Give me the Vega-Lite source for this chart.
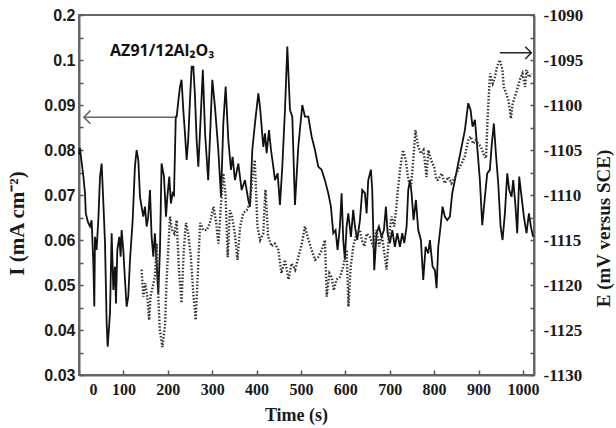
{
  "$schema": "https://vega.github.io/schema/vega-lite/v6.json",
  "width": 455,
  "height": 360,
  "autosize": {"type": "none"},
  "padding": {"left": 79, "top": 15, "right": 82, "bottom": 53},
  "background": "white",
  "config": {
    "view": {"stroke": "#666", "strokeWidth": 2},
    "axis": {"grid": false, "labelOverlap": false}
  },
  "datasets": {
    "current": [
      {"t":0,"I":0.079},{"t":2,"I":0.0805},{"t":5,"I":0.078},{"t":10,"I":0.074},{"t":13.5,"I":0.0704},{"t":15.3,"I":0.0659},{"t":20,"I":0.064},{"t":24.8,"I":0.063},{"t":28.5,"I":0.0644},{"t":32.3,"I":0.0548},{"t":34.5,"I":0.0452},{"t":36,"I":0.0607},{"t":39.6,"I":0.0578},{"t":43.5,"I":0.0644},{"t":47.3,"I":0.074},{"t":51,"I":0.077},{"t":55,"I":0.068},{"t":58.6,"I":0.0593},{"t":62.3,"I":0.0415},{"t":64.6,"I":0.0363},{"t":69.8,"I":0.0437},{"t":73.6,"I":0.0615},{"t":77.3,"I":0.0489},{"t":81,"I":0.0541},{"t":83.3,"I":0.0459},{"t":86.3,"I":0.0578},{"t":90.8,"I":0.0607},{"t":93.8,"I":0.0563},{"t":96,"I":0.0622},{"t":99.8,"I":0.0578},{"t":103.6,"I":0.0511},{"t":107.3,"I":0.0452},{"t":111,"I":0.0474},{"t":114.9,"I":0.0556},{"t":120.9,"I":0.0644},{"t":126,"I":0.0763},{"t":129.8,"I":0.08},{"t":133.6,"I":0.0778},{"t":137.4,"I":0.0696},{"t":141,"I":0.0674},{"t":144.9,"I":0.0652},{"t":148.6,"I":0.0674},{"t":152.4,"I":0.063},{"t":156,"I":0.0652},{"t":159.9,"I":0.0711},{"t":163.6,"I":0.0607},{"t":167.4,"I":0.0563},{"t":171,"I":0.0615},{"t":174.9,"I":0.0548},{"t":178.6,"I":0.0481},{"t":182.4,"I":0.0578},{"t":186,"I":0.077},{"t":191.4,"I":0.0741},{"t":196,"I":0.0652},{"t":199,"I":0.0696},{"t":203.4,"I":0.0741},{"t":207,"I":0.0681},{"t":211,"I":0.0704},{"t":214,"I":0.07},{"t":218,"I":0.0874},{"t":220,"I":0.0874},{"t":224,"I":0.0911},{"t":227.5,"I":0.0941},{"t":231,"I":0.0956},{"t":235,"I":0.0889},{"t":238.7,"I":0.0837},{"t":242.5,"I":0.0778},{"t":246,"I":0.0822},{"t":250,"I":0.0911},{"t":253.8,"I":0.0985},{"t":257.5,"I":0.0985},{"t":261,"I":0.0926},{"t":265,"I":0.0822},{"t":268.8,"I":0.0763},{"t":272.5,"I":0.0837},{"t":279,"I":0.0978},{"t":284,"I":0.0837},{"t":287.5,"I":0.0785},{"t":291,"I":0.0733},{"t":296,"I":0.085},{"t":300.3,"I":0.0956},{"t":306.3,"I":0.0896},{"t":313.8,"I":0.08},{"t":319.9,"I":0.0696},{"t":325.1,"I":0.0859},{"t":330.4,"I":0.0941},{"t":336.4,"I":0.0822},{"t":342.4,"I":0.0756},{"t":346,"I":0.0785},{"t":351.4,"I":0.0733},{"t":358.9,"I":0.077},{"t":366.4,"I":0.0711},{"t":373.9,"I":0.0733},{"t":381.4,"I":0.0689},{"t":385.2,"I":0.0674},{"t":390.4,"I":0.08},{"t":396.4,"I":0.0859},{"t":404,"I":0.0926},{"t":407.7,"I":0.0896},{"t":415.2,"I":0.0807},{"t":419,"I":0.0837},{"t":422.7,"I":0.0793},{"t":428,"I":0.0844},{"t":432.5,"I":0.08},{"t":437.7,"I":0.0763},{"t":441.5,"I":0.0733},{"t":447.5,"I":0.0748},{"t":452.7,"I":0.0678},{"t":458,"I":0.0763},{"t":464,"I":0.0889},{"t":469.3,"I":0.103},{"t":475.3,"I":0.0889},{"t":480.5,"I":0.0874},{"t":486.5,"I":0.0678},{"t":494,"I":0.0807},{"t":503,"I":0.09},{"t":509,"I":0.0874},{"t":516.6,"I":0.0874},{"t":524,"I":0.083},{"t":531.6,"I":0.08},{"t":539,"I":0.0763},{"t":546.5,"I":0.0756},{"t":554,"I":0.0733},{"t":561.5,"I":0.0704},{"t":567.5,"I":0.0674},{"t":572.8,"I":0.0615},{"t":578,"I":0.0622},{"t":582.5,"I":0.0578},{"t":587.8,"I":0.063},{"t":591.6,"I":0.0704},{"t":595.3,"I":0.06},{"t":599,"I":0.0556},{"t":602.8,"I":0.063},{"t":606.6,"I":0.0659},{"t":612.6,"I":0.0607},{"t":617.8,"I":0.0667},{"t":621.6,"I":0.063},{"t":626.8,"I":0.06},{"t":632.9,"I":0.0644},{"t":638.1,"I":0.0711},{"t":644.1,"I":0.0704},{"t":647.9,"I":0.0659},{"t":651.6,"I":0.0733},{"t":657.6,"I":0.0756},{"t":660.6,"I":0.0711},{"t":665.1,"I":0.0533},{"t":670.4,"I":0.0615},{"t":675.6,"I":0.063},{"t":681.7,"I":0.0607},{"t":686.9,"I":0.0622},{"t":691.4,"I":0.0674},{"t":695.2,"I":0.0615},{"t":700.4,"I":0.0593},{"t":705.7,"I":0.0622},{"t":711.7,"I":0.0585},{"t":717,"I":0.0615},{"t":723,"I":0.0585},{"t":728.2,"I":0.0615},{"t":732.7,"I":0.0593},{"t":738,"I":0.063},{"t":741.7,"I":0.0711},{"t":745.5,"I":0.0733},{"t":749.2,"I":0.0704},{"t":753.7,"I":0.0644},{"t":759,"I":0.0689},{"t":764.2,"I":0.0622},{"t":770.2,"I":0.06},{"t":775.5,"I":0.0511},{"t":780.8,"I":0.0585},{"t":786.8,"I":0.057},{"t":790.5,"I":0.06},{"t":796.5,"I":0.0541},{"t":801.8,"I":0.0533},{"t":805.5,"I":0.0493},{"t":809.3,"I":0.0585},{"t":814.5,"I":0.063},{"t":819,"I":0.0674},{"t":824.3,"I":0.0652},{"t":829.5,"I":0.0644},{"t":835.5,"I":0.0652},{"t":840.8,"I":0.0704},{"t":846.8,"I":0.0733},{"t":854.3,"I":0.077},{"t":861.8,"I":0.0807},{"t":869.3,"I":0.0844},{"t":876.8,"I":0.0904},{"t":882.1,"I":0.0889},{"t":886.6,"I":0.0852},{"t":891.9,"I":0.0867},{"t":897.1,"I":0.0807},{"t":903.1,"I":0.0733},{"t":908.4,"I":0.0633},{"t":914.4,"I":0.0696},{"t":919.6,"I":0.0748},{"t":925.6,"I":0.0756},{"t":929.4,"I":0.0807},{"t":934.6,"I":0.0859},{"t":939.1,"I":0.0793},{"t":944.4,"I":0.0726},{"t":949.7,"I":0.063},{"t":954.2,"I":0.06},{"t":959.4,"I":0.0659},{"t":964.7,"I":0.0748},{"t":969.2,"I":0.0711},{"t":974.4,"I":0.0696},{"t":978.2,"I":0.0733},{"t":983.4,"I":0.0674},{"t":987.2,"I":0.0615},{"t":991.7,"I":0.0741},{"t":997,"I":0.0696},{"t":1002.2,"I":0.0652},{"t":1008.2,"I":0.0615},{"t":1013.5,"I":0.0659},{"t":1018,"I":0.063},{"t":1023,"I":0.0607}
    ],
    "potential": [
      {"t":141,"E":-1118.3},{"t":145,"E":-1121.3},{"t":149,"E":-1119.8},{"t":154,"E":-1121.3},{"t":158,"E":-1123.9},{"t":161,"E":-1121.3},{"t":166,"E":-1120.2},{"t":171,"E":-1119.1},{"t":175,"E":-1115.4},{"t":179,"E":-1121.7},{"t":182,"E":-1125},{"t":188,"E":-1126.9},{"t":194,"E":-1124.3},{"t":197,"E":-1119.8},{"t":201,"E":-1116.1},{"t":205,"E":-1112.4},{"t":210,"E":-1113.9},{"t":215,"E":-1114.3},{"t":220,"E":-1112.8},{"t":225,"E":-1118.3},{"t":231,"E":-1122},{"t":236,"E":-1116.1},{"t":241,"E":-1113.1},{"t":246,"E":-1114.3},{"t":252,"E":-1116.9},{"t":258,"E":-1121.3},{"t":263,"E":-1123.9},{"t":269,"E":-1117.2},{"t":273,"E":-1113.1},{"t":280,"E":-1113.9},{"t":288,"E":-1113.9},{"t":295,"E":-1113.1},{"t":303,"E":-1111.3},{"t":309,"E":-1113.1},{"t":314,"E":-1115.4},{"t":319,"E":-1111.7},{"t":325,"E":-1107.6},{"t":330,"E":-1109.8},{"t":335,"E":-1116.9},{"t":340,"E":-1111.7},{"t":345,"E":-1112.4},{"t":351,"E":-1114.3},{"t":357,"E":-1117.2},{"t":363,"E":-1113.5},{"t":370,"E":-1112},{"t":378,"E":-1111.7},{"t":385,"E":-1110.9},{"t":391,"E":-1108},{"t":396,"E":-1106.1},{"t":402,"E":-1113.5},{"t":408,"E":-1115},{"t":415,"E":-1114.3},{"t":420,"E":-1109.4},{"t":426,"E":-1114.6},{"t":434,"E":-1115.7},{"t":441,"E":-1115.4},{"t":449,"E":-1116.1},{"t":456,"E":-1118.7},{"t":464,"E":-1117.2},{"t":472,"E":-1119.4},{"t":479,"E":-1117.6},{"t":487,"E":-1118.3},{"t":494,"E":-1116.9},{"t":502,"E":-1115.4},{"t":509,"E":-1113.5},{"t":517,"E":-1115},{"t":524,"E":-1116.1},{"t":532,"E":-1117.2},{"t":539,"E":-1116.9},{"t":547,"E":-1116.1},{"t":554,"E":-1115},{"t":558,"E":-1121.3},{"t":564,"E":-1118.7},{"t":569,"E":-1119.1},{"t":574,"E":-1120.6},{"t":580,"E":-1119.4},{"t":588,"E":-1119.1},{"t":595,"E":-1118},{"t":603,"E":-1116.1},{"t":607,"E":-1122.4},{"t":612,"E":-1118},{"t":618,"E":-1115.7},{"t":625,"E":-1114.3},{"t":633,"E":-1113.9},{"t":637,"E":-1115},{"t":643,"E":-1115.7},{"t":648,"E":-1114.3},{"t":655,"E":-1114.6},{"t":663,"E":-1115.7},{"t":670,"E":-1113.9},{"t":676,"E":-1115.7},{"t":682,"E":-1114.3},{"t":688,"E":-1116.5},{"t":693,"E":-1118.3},{"t":698,"E":-1114.6},{"t":704,"E":-1112.4},{"t":710,"E":-1113.5},{"t":715,"E":-1111.3},{"t":719,"E":-1109.1},{"t":724,"E":-1106.9},{"t":730,"E":-1105},{"t":736,"E":-1106.1},{"t":742,"E":-1108.3},{"t":748,"E":-1109.1},{"t":753,"E":-1106.1},{"t":758,"E":-1102.8},{"t":764,"E":-1104.6},{"t":770,"E":-1105.4},{"t":776,"E":-1105},{"t":783,"E":-1108},{"t":787,"E":-1105},{"t":793,"E":-1106.1},{"t":800,"E":-1106.9},{"t":805,"E":-1108.3},{"t":809,"E":-1108.3},{"t":817,"E":-1107.6},{"t":824,"E":-1108.7},{"t":832,"E":-1108},{"t":839,"E":-1108.7},{"t":847,"E":-1108},{"t":854,"E":-1107.2},{"t":862,"E":-1106.5},{"t":869,"E":-1105.7},{"t":877,"E":-1103.9},{"t":882,"E":-1103.5},{"t":888,"E":-1104.3},{"t":894,"E":-1103.9},{"t":899,"E":-1104.3},{"t":905,"E":-1104.6},{"t":911,"E":-1105.4},{"t":917,"E":-1105.9},{"t":920,"E":-1102},{"t":923,"E":-1099.1},{"t":926,"E":-1096.5},{"t":932,"E":-1097.6},{"t":937,"E":-1096.9},{"t":942,"E":-1095.7},{"t":948,"E":-1095},{"t":954,"E":-1096.1},{"t":957,"E":-1098},{"t":962,"E":-1098.7},{"t":967,"E":-1099.4},{"t":971,"E":-1100.6},{"t":973,"E":-1101.5},{"t":977,"E":-1099.8},{"t":982,"E":-1099.1},{"t":987,"E":-1098.3},{"t":993,"E":-1097.2},{"t":999,"E":-1096.5},{"t":1005,"E":-1098},{"t":1008,"E":-1096.1},{"t":1014,"E":-1096.9},{"t":1020,"E":-1096.5}
    ],
    "arrowLeft": [{"t": 217, "t2": 11, "I": 0.0873}],
    "headLeft": [{"t": 11, "I": 0.0873}],
    "arrowRight": [{"t": 948, "t2": 1019, "E": -1094.2}],
    "headRight": [{"t": 1019, "E": -1094.2}],
    "note": [{"t": 70, "I": 0.1009, "label": "AZ91/12Al₂O₃"}]
  },
  "encoding": {
    "x": {
      "field": "t",
      "type": "quantitative",
      "scale": {"domain": [0, 1025], "nice": false, "zero": false},
      "axis": {
        "title": "Time (s)",
        "values": [0, 100, 200, 300, 400, 500, 600, 700, 800, 900, 1000],
        "format": "d",
        "labelFont": "Liberation Serif",
        "labelFontWeight": "bold",
        "labelFontSize": 16,
        "labelColor": "#1a1a1a",
        "labelPadding": 11,
        "labelOffset": {"condition": {"test": "datum.value === 0", "value": 10}, "value": 0},
        "tickSize": -5,
        "tickWidth": 1.5,
        "tickColor": "#555",
        "domainColor": "#666",
        "domainWidth": 2,
        "titleFont": "Liberation Serif",
        "titleFontWeight": "bold",
        "titleFontSize": 18,
        "titleColor": "#1a1a1a",
        "titleX": 217,
        "titleY": 31,
        "titleAlign": "center",
        "titleBaseline": "top"
      }
    }
  },
  "layer": [
    {
      "encoding": {
        "y": {
          "field": "I",
          "type": "quantitative",
          "scale": {"domain": [0.03, 0.11], "nice": false, "zero": false},
          "axis": {
            "orient": "left",
            "title": "I (mA cm⁻²)",
            "values": [0.03, 0.035, 0.04, 0.045, 0.05, 0.055, 0.06, 0.065, 0.07, 0.075, 0.08, 0.085, 0.09, 0.095, 0.1, 0.105, 0.11],
            "labelExpr": "round(datum.value*1000) % 10 !== 0 ? '' : (datum.value > 0.105 ? '0.2' : (datum.value > 0.095 ? '0.1' : format(datum.value, '.2f')))",
            "labelFont": "Liberation Sans",
            "labelFontWeight": "bold",
            "labelFontSize": 16,
            "labelColor": "#1a1a1a",
            "labelPadding": 8,
            "tickSize": -4,
            "tickWidth": 1.5,
            "tickColor": "#555",
            "domainColor": "#666",
            "domainWidth": 2,
            "titleFont": "Liberation Serif",
            "titleFontWeight": "bold",
            "titleFontSize": 21,
            "titleColor": "#1a1a1a",
            "titleAngle": -90,
            "titleX": -52,
            "titleY": 208,
            "titleAlign": "center",
            "titleBaseline": "bottom"
          }
        }
      },
      "layer": [
        {
          "data": {"name": "current"},
          "mark": {"type": "line", "color": "#111", "strokeWidth": 1.8}
        },
        {
          "data": {"name": "arrowLeft"},
          "mark": {"type": "rule", "color": "#666", "strokeWidth": 1.5},
          "encoding": {"x2": {"field": "t2"}}
        },
        {
          "data": {"name": "headLeft"},
          "mark": {"type": "point", "shape": "M1,-1L0,0L1,1", "size": 170, "filled": false, "stroke": "#666", "strokeWidth": 1.5, "opacity": 1}
        },
        {
          "data": {"name": "note"},
          "mark": {"type": "text", "align": "left", "baseline": "alphabetic", "font": "Open Sans, Noto Sans, DejaVu Sans", "fontWeight": "bold", "fontSize": 16, "color": "#111"},
          "encoding": {"text": {"field": "label"}}
        }
      ]
    },
    {
      "encoding": {
        "y": {
          "field": "E",
          "type": "quantitative",
          "scale": {"domain": [-1130, -1090], "nice": false, "zero": false},
          "axis": {
            "orient": "right",
            "title": "E (mV versus SCE)",
            "values": [-1130, -1127.5, -1125, -1122.5, -1120, -1117.5, -1115, -1112.5, -1110, -1107.5, -1105, -1102.5, -1100, -1097.5, -1095, -1092.5, -1090],
            "labelExpr": "round(datum.value*10) % 50 !== 0 ? '' : '-' + format(abs(datum.value), 'd')",
            "labelFont": "Liberation Serif",
            "labelFontWeight": "bold",
            "labelFontSize": 17,
            "labelColor": "#1a1a1a",
            "labelPadding": 13,
            "tickSize": -4,
            "tickWidth": 1.5,
            "tickColor": "#555",
            "domainColor": "#666",
            "domainWidth": 2,
            "titleFont": "Liberation Serif",
            "titleFontWeight": "bold",
            "titleFontSize": 19,
            "titleColor": "#1a1a1a",
            "titleAngle": -90,
            "titleX": 60,
            "titleY": 213,
            "titleAlign": "center",
            "titleBaseline": "top"
          }
        }
      },
      "layer": [
        {
          "data": {"name": "potential"},
          "mark": {"type": "line", "color": "#333", "strokeWidth": 2.4, "strokeDash": [1.5, 1.8]}
        },
        {
          "data": {"name": "arrowRight"},
          "mark": {"type": "rule", "color": "#222", "strokeWidth": 1.5},
          "encoding": {"x2": {"field": "t2"}}
        },
        {
          "data": {"name": "headRight"},
          "mark": {"type": "point", "shape": "M-1,-1L0,0L-1,1", "size": 150, "filled": false, "stroke": "#222", "strokeWidth": 1.5, "opacity": 1}
        }
      ]
    }
  ],
  "resolve": {"scale": {"y": "independent"}}
}
